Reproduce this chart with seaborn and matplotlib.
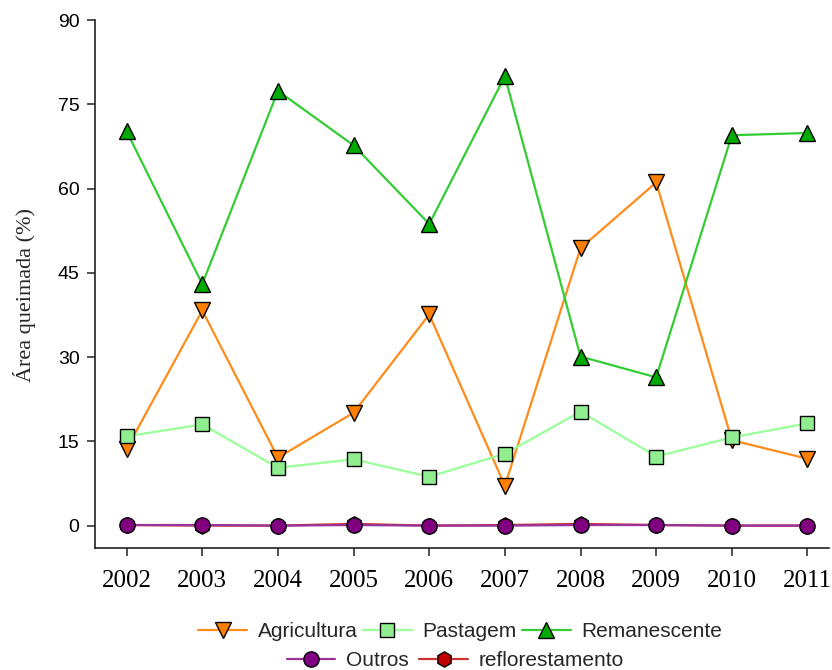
import numpy as np
import matplotlib.pyplot as plt
import seaborn as sns
import pandas as pd

years = [2002, 2003, 2004, 2005, 2006, 2007, 2008, 2009, 2010, 2011]
agricultura = [13.7, 38.3, 12.1, 20.1, 37.6, 7.1, 49.4, 61.1, 15.2, 11.9]
pastagem = [15.9, 18.0, 10.3, 11.8, 8.7, 12.8, 20.3, 12.3, 15.7, 18.2]
remanescente = [70.2, 43.0, 77.4, 67.7, 53.7, 80.0, 30.1, 26.4, 69.5, 69.9]
outros = [0.1, 0.1, 0.0, 0.1, 0.0, 0.0, 0.1, 0.1, 0.0, 0.0]
reflorestamento = [0.1, 0.0, 0.0, 0.3, 0.0, 0.1, 0.3, 0.1, 0.0, 0.0]

sns.set_style('ticks')

fig = plt.figure(figsize=(8.32, 6.70), dpi=100)
ax = fig.add_axes([0.114, 0.182, 0.882, 0.788])

# name, values, line color, face color, marker, size, zorder
series = [
    ('reflorestamento', reflorestamento, '#cc3333', '#c00000', 'h', 11, 3),
    ('Outros', outros, '#993399', '#800080', 'o', 11, 4),
    ('Agricultura', agricultura, '#ff8c1a', '#ff8000', 'v', 11, 5),
    ('Pastagem', pastagem, '#99ff99', '#90ee90', 's', 10, 6),
    ('Remanescente', remanescente, '#33cc33', '#00aa00', '^', 11.5, 7),
]

handles = {}
for name, vals, lc, fc, mk, ms, z in series:
    df = pd.DataFrame({'ano': years, 'area': vals})
    sns.lineplot(data=df, x='ano', y='area', ax=ax, color=lc, linewidth=1.6,
                 marker=mk, markersize=ms, markerfacecolor=fc,
                 markeredgecolor='black', markeredgewidth=1.0, zorder=z)
    handles[name] = ax.lines[-1]

ax.set_xlim(2001.58, 2011.28)
ax.set_ylim(-4, 90)
ax.set_xticks(years)
ax.set_xticklabels([str(y) for y in years], family='Liberation Serif', fontsize=18, color='black')
ax.set_yticks([0, 15, 30, 45, 60, 75, 90])
ax.set_yticklabels(['0', '15', '30', '45', '60', '75', '90'], family='Liberation Sans',
                   fontsize=14, color='black')
ax.tick_params(direction='out', length=6, width=1.1, color='#222222', pad=5)
ax.tick_params(axis='x', pad=10)
ax.set_xlabel('')
ax.set_ylabel('Área queimada (%)', family='Liberation Serif', fontsize=16)
ax.yaxis.set_label_coords(-0.08, 0.48)
for s in ['top', 'right']:
    ax.spines[s].set_visible(False)
for s in ['left', 'bottom']:
    ax.spines[s].set_color('#222222')
    ax.spines[s].set_linewidth(1.2)

row1 = ['Agricultura', 'Pastagem', 'Remanescente']
row2 = ['Outros', 'reflorestamento']
leg1 = fig.legend([handles[n] for n in row1], row1, loc='center', bbox_to_anchor=(0.553, 0.057),
                  ncol=3, frameon=False, prop={'family': 'Liberation Sans', 'size': 15},
                  handlelength=2.35, columnspacing=0.25, handletextpad=0.5)
leg2 = fig.legend([handles[n] for n in row2], row2, loc='center', bbox_to_anchor=(0.547, 0.014),
                  ncol=2, frameon=False, prop={'family': 'Liberation Sans', 'size': 15},
                  handlelength=2.35, columnspacing=0.5, handletextpad=0.5)

fig.savefig('out.png', dpi=100)
